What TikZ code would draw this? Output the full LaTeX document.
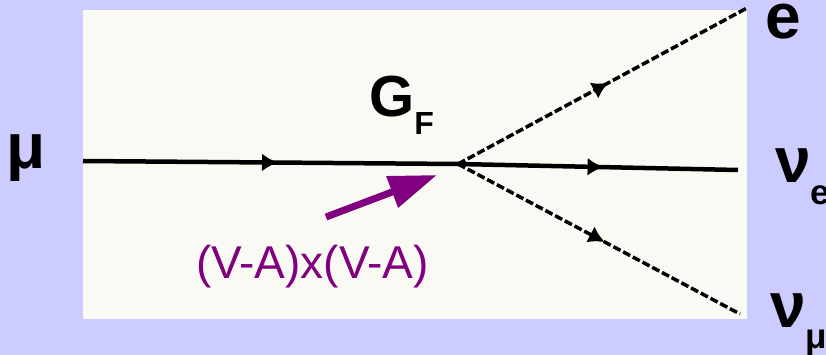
\documentclass[tikz,border=0pt]{standalone}
\usepackage{fontspec}
\setmainfont{Liberation Sans}
\usetikzlibrary{arrows.meta,decorations.markings}
\definecolor{lavender}{RGB}{204,204,255}
\definecolor{paper}{RGB}{250,250,245}
\definecolor{vapurple}{RGB}{128,0,128}

\begin{document}
\begin{tikzpicture}[x=1pt,y=-1pt,
  fermion/.style={black,line width=4.5pt,
    decoration={markings,mark=at position 0.52 with {\arrow{Latex[length=16pt,width=18pt]}}},
    postaction=decorate},
  dfermion/.style={fermion,line width=3.5pt,dash pattern=on 8pt off 3pt},
  coupling/.style={-{Triangle[length=48pt,width=32pt]},line width=7pt,color=vapurple},
  particle/.style={font=\bfseries\fontsize{64}{64}\selectfont,inner sep=0pt,anchor=base west},
]
  \useasboundingbox (0,0) rectangle (826,355);
  \fill[lavender] (0,0) rectangle (826,355);
  \fill[paper] (83,10) rectangle (747,319);
  % vertex and line ends
  \coordinate (v)     at (458,164);
  \coordinate (muin)  at (83,161);
  \coordinate (eout)  at (747,8);
  \coordinate (neout) at (738,170);
  \coordinate (nmout) at (740,314);
  \draw[fermion]  (muin) -- (v);
  \draw[fermion]  (v) -- (neout);
  \draw[dfermion] (v) -- (eout);
  \draw[dfermion] (v) -- (nmout);
  % labels
  \node[particle] (mu) at (6,169)   {μ};
  \node[particle] (e)  at (765,39)  {e};
  \node[particle] (ne) at (775,183) {ν\raisebox{-22pt}{\fontsize{35}{35}\selectfont e}};
  \node[particle] (nm) at (770,327) {ν\raisebox{-21pt}{\fontsize{35}{35}\selectfont μ}};
  \node[particle,font=\bfseries\fontsize{58}{58}\selectfont] (gf) at (369,117)
    {G\raisebox{-18pt}{\fontsize{32}{32}\selectfont F}};
  \node[anchor=base west,inner sep=0pt,color=vapurple,font=\fontsize{46}{46}\selectfont]
    (va) at (196,278) {(V-A)x(V-A)};
  \coordinate (atail) at (326,217);
  \coordinate (ahead) at (437,175);
  \draw[coupling] (atail) -- (ahead);
\end{tikzpicture}
\end{document}
